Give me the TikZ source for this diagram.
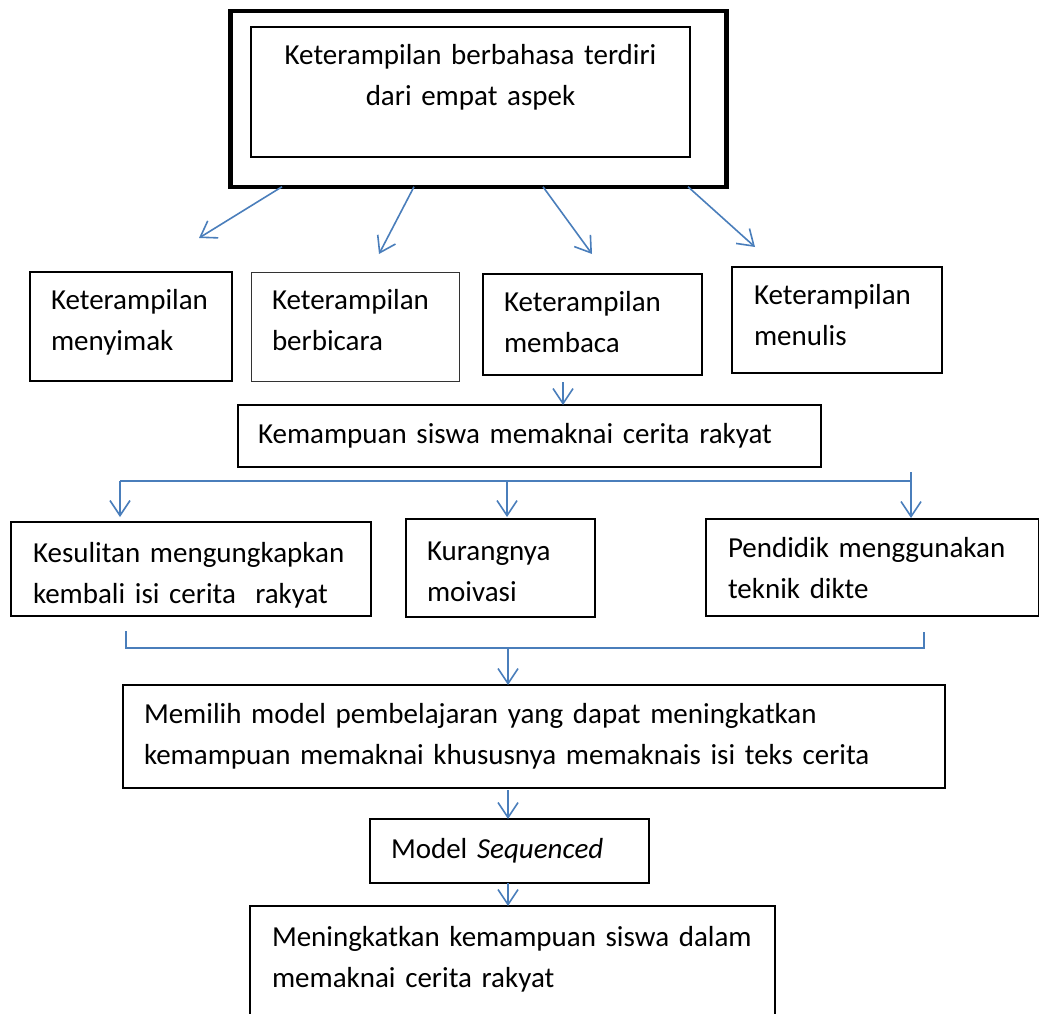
\documentclass[tikz,border=0pt]{standalone}
\usepackage{fontspec}
\setmainfont{Carlito}
\usetikzlibrary{arrows.meta}
\definecolor{arrowblue}{HTML}{4A7EBB}
\begin{document}
\begin{tikzpicture}[x=1pt,y=-1pt,
  box/.style={draw=black, line width=1.4pt, rectangle, inner sep=0pt, outer sep=0pt,
    anchor=north west, align=left, font=\fontsize{29}{41}\selectfont},
  link/.style={draw=arrowblue, line width=1.6pt},
  arr/.style={link, -{Straight Barb[length=15pt,width=20pt]}}]
\useasboundingbox (0,0) rectangle (1039,1014);

% top
\node[box, line width=4.5pt, minimum width=496pt, minimum height=175.5pt] (outer) at (230.5,11.25) {};
\node[box, align=center, line width=1.2pt, minimum width=439pt, minimum height=130pt, text width=419pt] (top) at (251,27)
  {\rule{0pt}{38pt}Keterampilan berbahasa terdiri\\dari empat aspek\rule[-51pt]{0pt}{51pt}};

% second row
\node[box, minimum width=202pt, minimum height=109pt, text width=160pt] (b1) at (30,272)
  {\mbox{\rule{0pt}{37pt}Keterampilan}\\\mbox{menyimak\rule[-31pt]{0pt}{31pt}}};
\node[box, draw=black!80, line width=0.9pt, minimum width=208pt, minimum height=109pt, text width=166pt] (b2) at (251,272)
  {\mbox{\rule{0pt}{37pt}Keterampilan}\\\mbox{berbicara\rule[-31pt]{0pt}{31pt}}};
\node[box, minimum width=219pt, minimum height=101pt, text width=177pt] (b3) at (483,274)
  {\mbox{\rule{0pt}{37pt}Keterampilan}\\\mbox{membaca\rule[-23pt]{0pt}{23pt}}};
\node[box, minimum width=210pt, minimum height=106pt, text width=166pt] (b4) at (732,267)
  {\mbox{\rule{0pt}{37pt}Keterampilan}\\\mbox{menulis\rule[-28pt]{0pt}{28pt}}};

% third
\node[box, minimum width=583pt, minimum height=62pt, text width=543pt] (k) at (238,405)
  {\mbox{\rule{0pt}{38pt}Kemampuan siswa memaknai cerita rakyat\rule[-24pt]{0pt}{24pt}}};

% fourth row
\node[box, minimum width=360pt, minimum height=94pt, text width=316pt] (c1) at (11,522)
  {\mbox{\rule{0pt}{40pt}Kesulitan mengungkapkan}\\\mbox{kembali isi cerita\ \ rakyat\rule[-13pt]{0pt}{13pt}}};
\node[box, minimum width=189pt, minimum height=98pt, text width=147pt] (c2) at (406,519)
  {\mbox{\rule{0pt}{41pt}Kurangnya}\\\mbox{moivasi\rule[-16pt]{0pt}{16pt}}};
\node[box, minimum width=332.5pt, minimum height=97pt, text width=288.5pt] (c3) at (706,519)
  {\mbox{\rule{0pt}{38pt}Pendidik menggunakan}\\\mbox{teknik dikte\rule[-18pt]{0pt}{18pt}}};

% lower boxes
\node[box, minimum width=822pt, minimum height=103pt, text width=780pt] (d) at (123,685)
  {\mbox{\rule{0pt}{38pt}Memilih model pembelajaran yang dapat meningkatkan}\\\mbox{kemampuan memaknai khususnya memaknais isi teks cerita\rule[-24pt]{0pt}{24pt}}};
\node[box, minimum width=279pt, minimum height=64pt, text width=237pt] (e) at (370,819)
  {\mbox{\rule{0pt}{39pt}Model \textit{Sequenced}\rule[-25pt]{0pt}{25pt}}};
\node[box, minimum width=525pt, minimum height=112pt, text width=481pt] (f) at (250,906)
  {\mbox{\rule{0pt}{40pt}Meningkatkan kemampuan siswa dalam}\\\mbox{memaknai cerita rakyat\rule[-31pt]{0pt}{31pt}}};

% arrows from the top box
\coordinate (s1) at (282,0);
\coordinate (s2) at (414,0);
\coordinate (s3) at (543,0);
\coordinate (s4) at (688,0);
\coordinate (t1) at (199,238);
\coordinate (t2) at (379,254);
\coordinate (t3) at (592,254);
\coordinate (t4) at (755,247);
\draw[arr] (outer.south -| s1) -- (t1);
\draw[arr] (outer.south -| s2) -- (t2);
\draw[arr] (outer.south -| s3) -- (t3);
\draw[arr] (outer.south -| s4) -- (t4);

% membaca -> kemampuan
\coordinate (xa) at (563,0);
\draw[arr, shorten <=7pt] (b3.south -| xa) -- (k.north -| xa);

% first bracket
\coordinate (h1l) at (120,481);
\coordinate (h1m) at (507,481);
\coordinate (h1r) at (911,481);
\coordinate (h1t) at (911,472);
\draw[link] (h1l) -- (h1r);
\draw[arr, shorten >=5pt] (h1l) -- (c1.north -| h1l);
\draw[arr, shorten >=2pt] (h1m) -- (c2.north -| h1m);
\draw[arr, shorten >=1pt] (h1t) -- (c3.north -| h1t);

% second bracket
\coordinate (h2l) at (126,631);
\coordinate (h2lb) at (126,648);
\coordinate (h2rb) at (924,648);
\coordinate (h2r) at (924,632);
\coordinate (h2m) at (508,648);
\draw[link] (h2l) -- (h2lb) -- (h2rb) -- (h2r);
\draw[arr] (h2m) -- (d.north -| h2m);

% lower arrows
\coordinate (xb) at (508,0);
\draw[arr, shorten <=2pt] (d.south -| xb) -- (e.north -| xb);
\draw[arr] (e.south -| xb) -- (f.north -| xb);
\end{tikzpicture}
\end{document}
